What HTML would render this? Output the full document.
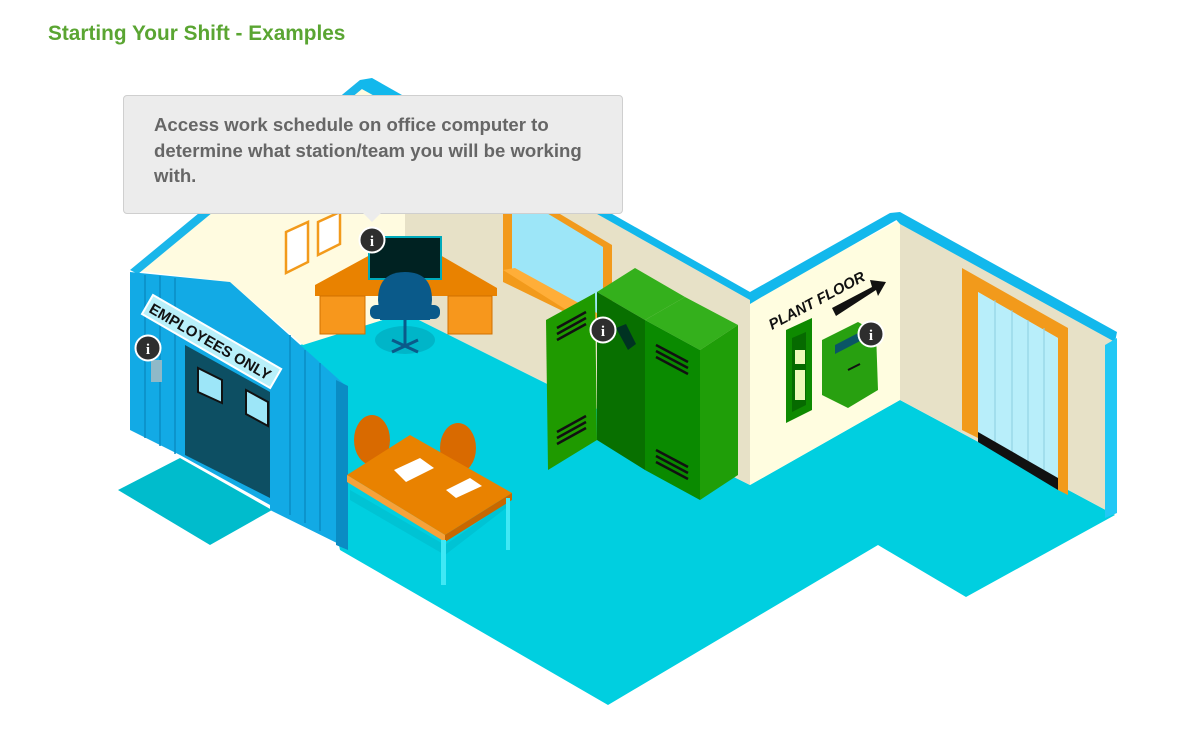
<!DOCTYPE html>
<html><head><meta charset="utf-8"><style>
html,body{margin:0;padding:0;background:#fff;width:1188px;height:754px;overflow:hidden;font-family:"Liberation Sans",Arial,sans-serif}
h1{position:absolute;left:48px;top:22px;margin:0;font-size:20.8px;font-weight:bold;color:#5aa532}
.tip{position:absolute;left:123px;top:95px;width:500px;height:119px;background:#ececec;border:1px solid #cfcfcf;border-radius:4px;box-sizing:border-box}
.tip p{margin:0;position:absolute;left:30px;top:16px;width:460px;font-size:18.6px;line-height:25.5px;font-weight:bold;color:#666}
.arr{position:absolute;left:363px;top:213px;width:0;height:0;border-left:9px solid transparent;border-right:9px solid transparent;border-top:9px solid #ececec}
svg{position:absolute;left:0;top:0}
</style></head><body>
<svg width="1188" height="754" viewBox="0 0 1188 754">
<!-- floor -->
<polygon points="300,345 405,313 750,485 900,400 1115,515 966,597 878,545 608,705 340,550 300,368" fill="#00cfe0"/>
<polygon points="118,490 210,545 272,510 180,458" fill="#00bccc"/>
<!-- cream back-left wall -->
<polygon points="130,270 360,84 405,106 405,313 303,345 230,282" fill="#fffbe0"/>
<polygon points="130,270 360,80 368,84 138,274" fill="#1ab6ea"/>
<polygon points="360,80 372,78 750,292 750,302 360,88" fill="#12b8ec"/>
<!-- beige back wall -->
<polygon points="405,106 750,300 750,485 405,313" fill="#e7e1c7"/>
<!-- window -->
<polygon points="503,180 612,245 612,335 503,282" fill="#f29a1b"/>
<polygon points="512,192 603,247 603,320 512,270" fill="#9de6f8"/>
<polygon points="503,270 515,268 606,318 606,335" fill="#ffae38"/>
<!-- plant floor wall -->
<polygon points="750,300 900,220 900,400 750,485" fill="#fffde0"/>
<polygon points="750,292 890,213 900,218 760,298 750,304" fill="#12b8ec"/>
<!-- right room wall -->
<polygon points="900,220 1115,340 1115,515 900,400" fill="#e7e1c7"/>
<polygon points="890,213 900,212 1117,332 1115,342 900,224" fill="#12b8ec"/>
<polygon points="1105,345 1117,338 1117,513 1105,518" fill="#22c8f5"/>
<!-- curtain door -->
<polygon points="962,268 1068,328 1068,495 1058,490 1058,338 978,292 978,438 962,430" fill="#f29a1b"/>
<polygon points="978,292 1058,338 1058,490 978,438" fill="#b8eefa"/>
<line x1="995" y1="300" x2="995" y2="450" stroke="#8ccfe0"/><line x1="1012" y1="310" x2="1012" y2="460" stroke="#8ccfe0"/><line x1="1028" y1="320" x2="1028" y2="470" stroke="#8ccfe0"/><line x1="1044" y1="328" x2="1044" y2="480" stroke="#8ccfe0"/>
<polygon points="978,432 1058,478 1058,490 978,442" fill="#111"/>
<!-- plant floor sign -->
<text x="0" y="0" transform="translate(772,330) rotate(-28)" font-size="15" font-weight="bold" font-style="italic" fill="#111">PLANT FLOOR</text>
<polygon points="832,308 872,287 870,280 886,282 878,296 876,290 836,316" fill="#111"/>
<polygon points="786,330 812,318 812,410 786,423" fill="#0e8a00"/>
<polygon points="792,338 806,332 806,405 792,412" fill="#066a00"/>
<rect x="795" y="350" width="10" height="14" fill="#eef8b8"/><rect x="795" y="370" width="10" height="30" fill="#eef8b8"/>
<polygon points="822,340 858,322 876,332 878,390 848,408 822,395" fill="#28a010"/>
<polygon points="835,345 862,331 862,340 835,354" fill="#0a5566"/>
<line x1="848" y1="370" x2="860" y2="364" stroke="#111" stroke-width="2"/>
<!-- lockers -->
<polygon points="597,292 635,268 685,297 645,320" fill="#34b01c"/>
<polygon points="645,320 685,297 738,325 700,350" fill="#34b01c"/>
<polygon points="597,292 645,320 645,470 597,440" fill="#087000"/>
<polygon points="645,320 700,350 700,500 645,470" fill="#0a8a00"/>
<polygon points="700,350 738,325 738,475 700,500" fill="#1f9e08"/>
<polygon points="546,320 595,293 597,440 548,470" fill="#1f9a00"/>
<g stroke="#111" stroke-width="2.5">
<line x1="557" y1="328" x2="586" y2="312"/><line x1="557" y1="334" x2="586" y2="318"/><line x1="557" y1="340" x2="586" y2="324"/>
<line x1="557" y1="432" x2="586" y2="416"/><line x1="557" y1="438" x2="586" y2="422"/><line x1="557" y1="444" x2="586" y2="428"/>
<line x1="656" y1="345" x2="688" y2="362"/><line x1="656" y1="351" x2="688" y2="368"/><line x1="656" y1="357" x2="688" y2="374"/>
<line x1="656" y1="450" x2="688" y2="467"/><line x1="656" y1="456" x2="688" y2="473"/><line x1="656" y1="462" x2="688" y2="479"/>
</g>
<polygon points="616,328 626,324 636,344 628,350" fill="#032"/>
<!-- booth -->
<polygon points="130,272 230,282 345,385 347,548 270,510 270,505 180,455 130,430" fill="#12aae5"/>
<g stroke="#0a8cc4" stroke-width="1.5">
<line x1="145" y1="275" x2="145" y2="438"/><line x1="160" y1="276" x2="160" y2="446"/><line x1="175" y1="278" x2="175" y2="454"/><line x1="290" y1="335" x2="290" y2="515"/><line x1="305" y1="350" x2="305" y2="523"/><line x1="320" y1="363" x2="320" y2="531"/>
</g>
<polygon points="336,380 348,386 348,550 336,545" fill="#0a8cc4"/>
<polygon points="185,345 270,392 270,498 185,455" fill="#0d4f63"/>
<polygon points="198,368 222,380 222,403 198,392" fill="#9de6f8" stroke="#111" stroke-width="2"/>
<polygon points="246,390 268,402 268,426 246,414" fill="#9de6f8" stroke="#111" stroke-width="2"/>
<g transform="translate(153,295) rotate(30)"><rect x="0" y="0" width="148" height="22" fill="#b8f0fa" stroke="#fff" stroke-width="2"/><text x="4" y="17" font-size="15" font-weight="bold" fill="#111">EMPLOYEES ONLY</text></g>
<rect x="151" y="360" width="11" height="22" fill="#8fb9c8"/>
<!-- clipboards -->
<polygon points="286,232 308,222 308,262 286,273" fill="#fff" stroke="#f29a1b" stroke-width="2.5"/>
<polygon points="318,222 340,212 340,244 318,255" fill="#fff" stroke="#f29a1b" stroke-width="2.5"/>
<!-- desk -->
<polygon points="315,285 370,255 440,255 497,288 497,296 315,296" fill="#e98200"/>
<rect x="320" y="296" width="45" height="38" fill="#f7971c" stroke="#d07000"/>
<rect x="448" y="296" width="44" height="38" fill="#f7971c" stroke="#d07000"/>
<rect x="369" y="237" width="72" height="42" fill="#022" stroke="#0ab" stroke-width="2"/>
<ellipse cx="405" cy="340" rx="30" ry="14" fill="#00b5c8"/>
<path d="M378,300 Q378,272 405,272 Q432,272 432,300 L430,320 L380,320 Z" fill="#0a5a8a"/>
<rect x="370" y="305" width="70" height="14" rx="6" fill="#0a5a8a"/>
<g stroke="#0a5a8a" stroke-width="3"><line x1="405" y1="320" x2="405" y2="345"/><line x1="392" y1="352" x2="418" y2="340"/><line x1="392" y1="340" x2="418" y2="352"/></g>
<!-- table -->
<polygon points="350,490 445,545 510,500 510,505 445,555 350,500" fill="#00b8c8" opacity=".5"/>
<ellipse cx="372" cy="440" rx="18" ry="25" fill="#d96a00"/>
<ellipse cx="458" cy="448" rx="18" ry="25" fill="#d96a00"/>
<polygon points="347,475 410,435 512,493 445,535" fill="#e98200"/>
<polygon points="347,475 445,535 445,542 347,482" fill="#f7a23a"/>
<polygon points="445,535 512,493 512,500 445,542" fill="#c86800"/>
<rect x="441" y="540" width="5" height="45" fill="#40e8f5"/><rect x="506" y="498" width="4" height="52" fill="#40e8f5"/>
<polygon points="394,470 420,458 434,468 406,482" fill="#fff"/>
<polygon points="446,490 470,478 482,486 456,498" fill="#fff"/>
<!-- info icons -->
<g font-family="Liberation Serif,serif" font-weight="bold" font-size="15" fill="#fff" text-anchor="middle">
<circle cx="372" cy="240" r="12.5" fill="#2e2e2e" stroke="#fff" stroke-width="2"/><text x="372" y="246">i</text>
<circle cx="148" cy="348" r="12.5" fill="#2e2e2e" stroke="#fff" stroke-width="2"/><text x="148" y="354">i</text>
<circle cx="603" cy="330" r="12.5" fill="#2e2e2e" stroke="#fff" stroke-width="2"/><text x="603" y="336">i</text>
<circle cx="871" cy="334" r="12.5" fill="#2e2e2e" stroke="#fff" stroke-width="2"/><text x="871" y="340">i</text>
</g>
</svg>
<h1>Starting Your Shift - Examples</h1>
<div class="tip"><p>Access work schedule on office computer to determine what station/team you will be working with.</p></div>
<div class="arr"></div>
</body></html>
